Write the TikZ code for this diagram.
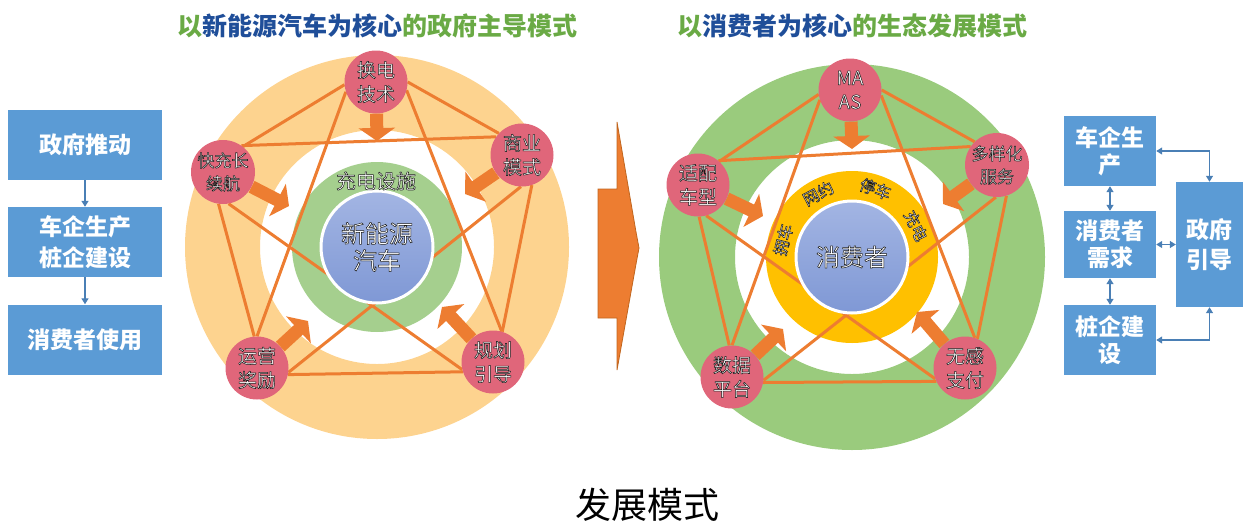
\documentclass[tikz,border=0pt]{standalone}
\usepackage{fontspec}
\setmainfont{Noto Sans CJK SC}
\usetikzlibrary{arrows.meta}
\definecolor{ringO}{HTML}{FDD38F}
\definecolor{ringG}{HTML}{9ACB7D}
\definecolor{greenC}{HTML}{A5CF8E}
\definecolor{goldC}{HTML}{FFC000}
\definecolor{blueT}{HTML}{A3B5E3}
\definecolor{blueB}{HTML}{7F98D5}
\definecolor{pinkN}{HTML}{E0667A}
\definecolor{arrO}{HTML}{ED7D31}
\definecolor{arrD}{HTML}{C0651E}
\definecolor{boxB}{HTML}{5B9BD5}
\definecolor{lineB}{HTML}{4A7FB5}
\definecolor{titG}{HTML}{6AAA45}
\definecolor{titB}{HTML}{1F4E99}
\newcommand\olt[1]{\special{pdf:literal direct 2 Tr 0.5 w 0.1 0.1 0.1 RG}#1\special{pdf:literal direct 0 Tr 0.4 w}}
\pgfdeclarelayer{bg}
\pgfdeclarelayer{lines}
\pgfdeclarelayer{arr}
\pgfsetlayers{bg,lines,arr,main}
\begin{document}
\begin{tikzpicture}[x=1pt,y=-1pt,
  pk/.style={circle,fill=pinkN,minimum size=63pt,inner sep=0pt,align=center,text=white,
    font=\fontsize{19}{24}\selectfont},
  pks/.style={pk,font=\fontsize{17}{23}\selectfont},
  ol/.style={draw=arrO,line width=3pt},
  bigarr/.style={draw=arrO,line width=13pt,-{Triangle[width=36pt,length=13pt]}},
  bluefill/.style={top color=blueT,bottom color=blueB},
  ctext/.style={text=white,align=center,inner sep=0pt},
  lbox/.style={rectangle,fill=boxB,text=white,align=center,inner sep=0pt,
    font=\fontsize{23}{31}\selectfont\bfseries},
  barr/.style={draw=lineB,line width=1.3pt},
  tip/.style={-{Triangle[width=7pt,length=6pt]}},
  tips/.style={{Triangle[width=7pt,length=6pt]}-{Triangle[width=7pt,length=6pt]}},
  title/.style={font=\fontsize{25}{30}\selectfont\bfseries},
  arct/.style={text=white,font=\fontsize{16}{16}\selectfont,inner sep=0pt}
]
\useasboundingbox (0,0) rectangle (1244,525);
\coordinate (cL) at (377,247);
\coordinate (cR) at (852,257);

% ---------- titles ----------
\node[title] (titL) at (377,26) {{\color{titG}以}{\color{titB}新能源汽车为核心}{\color{titG}的政府主导模式}};
\node[title] (titR) at (852,26) {{\color{titG}以}{\color{titB}消费者为核心}{\color{titG}的生态发展模式}};

% ---------- left boxes ----------
\node[lbox,minimum width=154pt,minimum height=70pt] (lb1) at (85,145) {政府推动};
\node[lbox,minimum width=154pt,minimum height=70pt] (lb2) at (85,242) {车企生产\\桩企建设};
\node[lbox,minimum width=154pt,minimum height=70pt] (lb3) at (85,339.5) {消费者使用};
\draw[barr,tip] (lb1) -- (lb2);
\draw[barr,tip] (lb2) -- (lb3);

% ---------- right boxes ----------
\node[lbox,minimum width=92pt,minimum height=70pt,font=\fontsize{23}{27}\selectfont\bfseries] (rb1) at (1110,151) {车企生\\产};
\node[lbox,minimum width=92pt,minimum height=67pt,font=\fontsize{23}{27}\selectfont\bfseries] (rb2) at (1110,244.5) {消费者\\需求};
\node[lbox,minimum width=92pt,minimum height=70pt,font=\fontsize{23}{27}\selectfont\bfseries] (rb3) at (1110,340) {桩企建\\设};
\node[lbox,minimum width=67pt,minimum height=125pt,font=\fontsize{23}{30}\selectfont\bfseries] (gov) at (1209.5,244.5) {政府\\引导};
\draw[barr,tips] (rb1.east) -| (gov.north);
\draw[barr,tips] (rb3.east) -| (gov.south);
\draw[barr,tips] (rb1) -- (rb2);
\draw[barr,tips] (rb2) -- (rb3);
\draw[barr,tips] (rb2) -- (gov);

% ---------- middle chevron ----------
\fill[arrO,draw=arrD,line width=0.8pt] (598,189) -- (617,189) -- (617,122) -- (636,232) -- (639,248) -- (636,264) -- (617,370) -- (617,318) -- (598,318) -- cycle;

% ---------- left diagram ----------
\begin{pgfonlayer}{bg}
\fill[ringO,even odd rule] (cL) circle (192pt) (cL) circle (117pt);
\fill[greenC] (cL) circle (85pt);
\end{pgfonlayer}
\begin{pgfonlayer}{arr}
\shade[bluefill] (cL) circle (56pt);
\draw[white,line width=3pt] (cL) circle (56pt);
\end{pgfonlayer}
\node[ctext,font=\fontsize{24}{27}\selectfont] (nev) at (cL) {\olt{新能源\\汽车}};
\node[ctext,font=\fontsize{20}{20}\selectfont] (chg) at (376,181) {\olt{充电设施}};
\node[pk] (T) at (376,82) {\olt{换电\\技术}};
\node[pk] (R) at (522,155) {\olt{商业\\模式}};
\node[pks] (L) at (223,172) {\olt{快充长\\续航}};
\node[pk] (BL) at (257,368) {\olt{运营\\奖励}};
\node[pk] (BR) at (493,362) {\olt{规划\\引导}};
\coordinate (aT) at (377,141);
\coordinate (aR) at (465,194);
\coordinate (aL) at (289,206);
\coordinate (aBL) at (308,321);
\coordinate (aBR) at (442,307);
\begin{pgfonlayer}{lines}
\draw[ol] (T.185) -- (L.52);
\draw[ol] (T.198) -- (BL.90);
\draw[ol] (T.0) -- (R.137);
\draw[ol] (T.345) -- (BR.74);
\draw[ol] (L.55) -- (R.145);
\draw[ol] (L.262) -- (BL.95);
\draw[ol] (L.280) -- (BR.194);
\draw[ol] (R.268) -- (BL.352);
\draw[ol] (R.288) -- (BR.73);
\draw[ol] (BL.348) -- (BR.198);
\end{pgfonlayer}
\begin{pgfonlayer}{arr}
\draw[bigarr] (T) -- (aT);
\draw[bigarr] (R) -- (aR);
\draw[bigarr] (L) -- (aL);
\draw[bigarr] (BL) -- (aBL);
\draw[bigarr] (BR) -- (aBR);
\end{pgfonlayer}

% ---------- right diagram ----------
\begin{pgfonlayer}{bg}
\fill[ringG,even odd rule] (cR) circle (193pt) (cR) circle (117pt);
\fill[goldC] (cR) circle (86pt);
\end{pgfonlayer}
\begin{pgfonlayer}{arr}
\shade[bluefill] (cR) circle (56pt);
\draw[white,line width=3pt] (cR) circle (56pt);
\end{pgfonlayer}
\node[ctext,font=\fontsize{24}{27}\selectfont] (cons) at (cR) {\olt{消费者}};
\node[arct,rotate=76] (arc1) at ([shift={(166:71pt)}]cR) {\olt{拥车}};
\node[arct,rotate=28] (arc2) at ([shift={(118:72pt)}]cR) {\olt{网约}};
\node[arct,rotate=-19] (arc3) at ([shift={(71:72pt)}]cR) {\olt{停车}};
\node[arct,rotate=-64] (arc4) at ([shift={(26:71pt)}]cR) {\olt{充电}};
\node[pk] (T2) at (850,90) {\olt{MA\\AS}};
\node[pks] (R2) at (997,165) {\olt{多样化\\服务}};
\node[pk] (L2) at (698,185) {\olt{适配\\车型}};
\node[pk] (BL2) at (732,377) {\olt{数据\\平台}};
\node[pk] (BR2) at (965,368) {\olt{无感\\支付}};
\coordinate (bT) at (852,149);
\coordinate (bR) at (943,204);
\coordinate (bL) at (763,216);
\coordinate (bBL) at (783,329);
\coordinate (bBR) at (917,312);
\begin{pgfonlayer}{lines}
\draw[ol] (T2.188) -- (L2.48);
\draw[ol] (T2.198) -- (BL2.90);
\draw[ol] (T2.0) -- (R2.134);
\draw[ol] (T2.350) -- (BR2.72);
\draw[ol] (L2.50) -- (R2.145);
\draw[ol] (L2.272) -- (BL2.95);
\draw[ol] (L2.285) -- (BR2.200);
\draw[ol] (R2.268) -- (BL2.354);
\draw[ol] (R2.287) -- (BR2.67);
\draw[ol] (BL2.350) -- (BR2.205);
\end{pgfonlayer}
\begin{pgfonlayer}{arr}
\draw[bigarr] (T2) -- (bT);
\draw[bigarr] (R2) -- (bR);
\draw[bigarr] (L2) -- (bL);
\draw[bigarr] (BL2) -- (bBL);
\draw[bigarr] (BR2) -- (bBR);
\end{pgfonlayer}

% ---------- caption ----------
\node[font=\fontsize{36}{36}\selectfont,text=black] (cap) at (647,505) {发展模式};
\end{tikzpicture}
\end{document}
